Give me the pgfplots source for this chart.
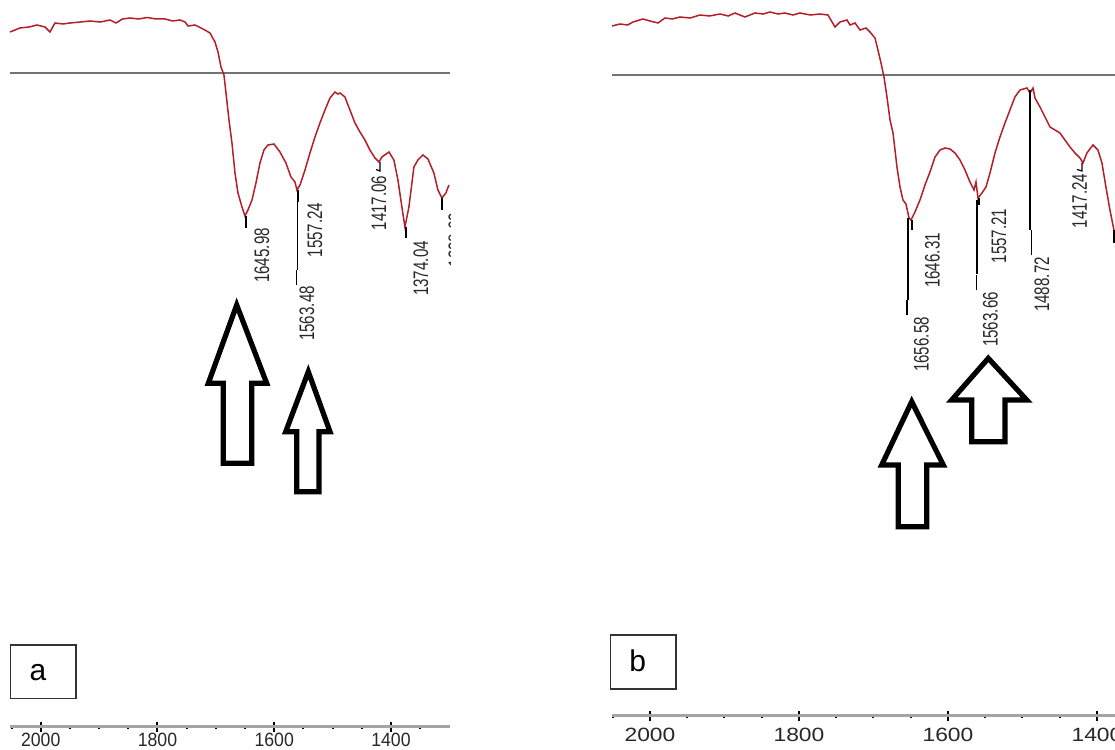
\documentclass[border=0pt]{standalone}
\usepackage{pgfplots}
\usepackage{pgfplotstable}
\pgfplotsset{compat=1.18}
\usepackage{fontspec}
\setmainfont{Liberation Sans}
\definecolor{spec}{RGB}{180,30,40}
\definecolor{refl}{RGB}{115,115,115}
\definecolor{axl}{RGB}{165,165,165}
\definecolor{txt}{RGB}{40,40,40}

% panel a: wavenumber (cm^-1), transmittance (arbitrary units)
\pgfplotstableread{
wn y
2052.6 718
2044.0 720
2035.5 722
2020.0 723
2006.3 725
1992.6 723
1984.1 718
1975.5 727
1962.0 726
1949.8 727
1932.0 728
1915.6 729
1898.0 728
1881.3 730
1871.0 727
1860.0 731
1847.0 732
1832.0 731
1817.9 732.5
1802.0 731
1787.1 731
1774.0 729
1761.4 730
1752.8 728
1747.7 724
1735.7 725
1722.0 721
1710.0 717
1701.5 708
1696.3 698
1691.2 683
1686.1 675
1682.6 657
1677.5 630
1672.4 607
1667.2 577
1662.1 557
1655.2 543
1650.1 534
1645.0 540
1638.1 550
1631.3 567
1624.4 587
1617.6 600
1610.7 605
1600.4 606
1590.2 598
1579.9 587
1571.3 573
1564.5 568
1561.0 560
1555.9 565
1547.3 580
1538.8 597
1530.2 613
1521.7 627
1513.1 640
1504.5 652
1496.0 658
1491.0 656
1487.4 657
1478.9 653
1470.3 640
1461.7 627
1453.2 618
1444.6 610
1436.1 600
1427.5 592
1420.6 588
1415.5 593
1403.5 598
1395.0 590
1388.1 570
1381.3 543
1376.1 523
1369.3 543
1360.7 583
1353.9 590
1345.3 595
1336.7 591
1326.5 577
1319.6 560
1312.8 552
1305.9 557
1300.8 565
}\leftdata

% panel b
\pgfplotstableread{
wn y
2051.0 724
2040.3 726
2030.0 725
2022.8 728
2009.4 731
2000.0 729
1989.3 727
1979.9 732
1970.0 731
1959.7 733
1946.0 732
1932.9 735
1920.0 734
1906.0 736
1895.0 734
1885.9 737
1872.5 733
1859.1 737
1848.0 736
1838.9 738
1828.0 736
1818.8 737
1808.0 735
1798.7 737
1785.0 735
1771.8 736
1761.1 735
1751.7 723
1745.0 728
1735.6 730
1731.5 725
1724.8 727
1718.1 720
1710.1 722
1704.7 718
1698.0 712
1694.0 700
1689.9 687
1685.9 673
1681.9 653
1677.8 630
1673.8 617
1671.1 600
1668.5 583
1664.4 563
1660.4 550
1656.4 546
1652.3 532
1649.6 530
1644.3 538
1637.6 550
1630.9 565
1624.2 578
1617.4 593
1610.7 600
1604.0 602
1597.3 601
1590.6 597
1583.9 590
1577.2 580
1570.5 568
1565.1 560
1562.4 568
1559.7 552
1554.4 557
1549.0 563
1543.6 577
1536.9 597
1530.2 613
1523.5 627
1516.8 640
1510.1 653
1503.3 660
1494.0 662
1489.9 657
1485.9 662
1483.2 652
1476.5 643
1469.8 633
1463.1 623
1456.4 620
1449.7 617
1443.0 610
1436.2 603
1429.5 597
1422.8 592
1418.8 587
1413.5 597
1405.4 605
1398.7 600
1393.3 587
1388.0 563
1382.6 540
1377.2 520
}\rightdata

\pgfplotsset{
  irpanel/.style={
    scale only axis,
    x dir=reverse,
    axis x line*=bottom,
    hide y axis,
    anchor=south west,
    x axis line style={axl, line width=1.5pt},
    every outer x axis line/.append style={axl, line width=1.5pt},
    xtick={1400,1600,1800,2000},
    xticklabels={1400,1600,1800,2000},
    minor xtick={1350,1450,1500,1550,1650,1700,1750,1850,1900,1950,2050},
    tick align=center,
    major tick length=5pt,
    minor tick length=2pt,
    every tick/.style={black, line width=1pt},
    every minor tick/.style={black, line width=1pt},
  },
}

\begin{document}
\begin{tikzpicture}
\path[use as bounding box] (0,0) rectangle (557.5pt,375pt);

\begin{axis}[irpanel,
  at={(5pt,11.5pt)}, width=220pt, height=363.5pt,
  xmin=1298.9, xmax=2052.6, ymin=23, ymax=750,
  xticklabel style={font=\fontsize{9.6}{10}\selectfont, text=txt, xscale=0.92, inner sep=0.5pt, yshift=0.4pt},
]
\addplot[refl, line width=0.6pt] coordinates {(1298.9,677) (2052.6,677)};
\addplot[spec, line width=0.75pt] table[x=wn, y=y] {\leftdata};
\end{axis}

\begin{axis}[irpanel,
  at={(306pt,17pt)}, width=251.5pt, height=358pt,
  xmin=1375.8, xmax=2051.0, ymin=34, ymax=750,
  xticklabel style={font=\fontsize{9.6}{10}\selectfont, text=txt, xscale=1.19},
]
\addplot[refl, line width=0.6pt] coordinates {(1375.8,675) (2051.0,675)};
\addplot[spec, line width=0.75pt] table[x=wn, y=y] {\rightdata};
\end{axis}

\begin{scope}[yshift=375pt, x=0.5pt, y=-0.5pt]
\tikzset{
  lbl/.style={font=\fontsize{10.5}{11}\selectfont, text=txt, rotate=90, xscale=0.72, inner sep=0pt},
  ld/.style={black, line width=0.6pt},
  blockarrow/.style={draw=black, fill=white, line width=2.6pt, line join=miter},
}
% ---- panel a annotations
\draw[ld] (246,216) -- (246,228);
\node[lbl] at (262,255.5) {1645.98};
\draw[black, line width=1.2pt] (298,190) -- (298,202);
\draw[ld] (297.3,202) -- (297.3,270);
\draw[ld] (296.5,270) -- (296.5,285);
\node[lbl] at (315,230) {1557.24};
\node[lbl] at (307,313.5) {1563.48};
\draw[ld] (380,162) -- (380,171) -- (376,169.5);
\node[lbl] at (379,203) {1417.06};
\draw[ld] (406,227) -- (406,238);
\node[lbl] at (421,268.5) {1374.04};
\draw[ld] (442,198) -- (442,210);
\begin{scope}
\clip (443,200) rectangle (450,300);
\node[lbl] at (456,240) {1338.62};
\end{scope}
\draw[blockarrow] (236.7,305) -- (266.7,383.3) -- (251.7,383.3) -- (251.7,463.3)
  -- (223.3,463.3) -- (223.3,383.3) -- (208.3,383.3) -- cycle;
\draw[blockarrow] (308.3,371.7) -- (330,431.7) -- (319,431.7) -- (319,491.7)
  -- (296.7,491.7) -- (296.7,431.7) -- (285.7,431.7) -- cycle;
\draw[black!80, line width=0.6pt] (10.7,645) rectangle (76,698.3);
\node[font=\fontsize{15}{16}\selectfont, inner sep=0pt] at (38,673) {a};

% ---- panel b annotations
\draw[ld] (908,218) -- (908,300);
\draw[ld] (907,300) -- (907,315);
\node[lbl] at (921.5,344.5) {1656.58};
\draw[ld] (912,220) -- (912,230);
\node[lbl] at (932.5,260.5) {1646.31};
\draw[ld] (977,200) -- (977,274);
\draw[ld] (976.5,275) -- (976.5,290);
\node[lbl] at (990.5,319.5) {1563.66};
\draw[black, line width=1.2pt] (979,198) -- (979,205);
\node[lbl] at (999,236) {1557.21};
\draw[ld] (1030,90) -- (1030,230);
\draw[ld] (1031.5,230) -- (1031.5,255);
\node[lbl] at (1042,284.5) {1488.72};
\draw[ld] (1082,163) -- (1082,171) -- (1077,169.5);
\node[lbl] at (1079.5,201) {1417.24};
\draw[ld] (1114,230) -- (1114,243);
\draw[blockarrow] (911.7,401.7) -- (943.3,465) -- (926.7,465) -- (926.7,526.7)
  -- (898.3,526.7) -- (898.3,465) -- (881.7,465) -- cycle;
\draw[blockarrow] (988.3,358.3) -- (1026.7,400) -- (1005,400) -- (1005,441.7)
  -- (971.7,441.7) -- (971.7,400) -- (951.7,400) -- cycle;
\draw[black!80, line width=0.6pt] (610.7,635) rectangle (676,689);
\node[font=\fontsize{15}{16}\selectfont, inner sep=0pt] at (637.7,661) {b};
\end{scope}
\end{tikzpicture}
\end{document}
